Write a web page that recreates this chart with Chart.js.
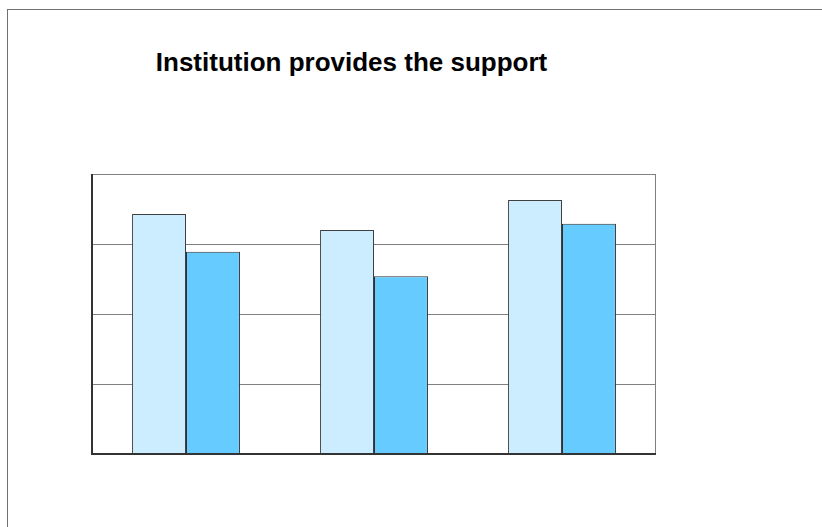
<!DOCTYPE html>
<html>
<head>
<meta charset="utf-8">
<title>Institution provides the support</title>
<script src="https://cdn.jsdelivr.net/npm/chart.js@4/dist/chart.umd.min.js"></script>
<style>
  html,body{margin:0;padding:0;background:#fff;}
  #wrap{position:relative;width:822px;height:527px;overflow:hidden;}
  #frame{position:absolute;left:7px;top:9px;right:-10px;bottom:-10px;border-left:1px solid #707070;border-top:1px solid #707070;}
  #title{position:absolute;left:0;width:703px;top:49px;text-align:center;font:bold 26px/1 "Liberation Sans",Arial,sans-serif;color:#000;white-space:nowrap;}
  canvas{position:absolute;left:0;top:0;}
</style>
</head>
<body>
<div id="wrap">
  <div id="frame"></div>
  <div id="title">Institution provides the support</div>
  <canvas id="chart" width="822" height="527"></canvas>
</div>
<script>
// categories and series (no axis labels shown)
const categories = ['Group 1', 'Group 2', 'Group 3'];
const seriesA = [3.43, 3.20, 3.63];
const seriesB = [2.89, 2.54, 3.29];
const yTicks = [0, 1, 2, 3, 4];

// grey frame on the top and right of the plot area, dark axes left and bottom
const plotFrame = {
  id: 'plotFrame',
  afterDraw(chart){
    const a = chart.chartArea, c = chart.ctx;
    c.save();
    c.strokeStyle = '#808080';
    c.lineWidth = 1;
    c.beginPath();
    c.moveTo(a.left, a.top + 0.5);
    c.lineTo(a.right - 0.5, a.top + 0.5);
    c.lineTo(a.right - 0.5, a.bottom);
    c.stroke();
    c.strokeStyle = '#333';
    c.lineWidth = 2;
    c.beginPath();
    c.moveTo(a.left, a.top);
    c.lineTo(a.left, a.bottom);
    c.lineTo(a.right, a.bottom);
    c.stroke();
    c.restore();
  }
};

new Chart(document.getElementById('chart'), {
  type: 'bar',
  data: {
    labels: categories,
    datasets: [
      {label: 'Series 1', data: seriesA, backgroundColor: '#CCECFF', borderColor: '#404040', borderWidth: 1},
      {label: 'Series 2', data: seriesB, backgroundColor: '#66CCFF', borderColor: '#303030', borderWidth: 1}
    ]
  },
  options: {
    responsive: false,
    animation: false,
    layout: {padding: {left: 92, top: 174, right: 166, bottom: 73}},
    plugins: {legend: {display: false}, title: {display: false}, tooltip: {enabled: false}},
    datasets: {bar: {categoryPercentage: 0.574, barPercentage: 1}},
    scales: {
      x: {
        grid: {display: false, drawTicks: false},
        border: {display: false},
        ticks: {display: false}
      },
      y: {
        min: yTicks[0],
        max: yTicks[yTicks.length - 1],
        afterBuildTicks(s){ s.ticks = yTicks.map(v => ({value: v})); },
        grid: {color: '#808080', drawTicks: false, tickLength: 0},
        border: {display: false},
        ticks: {display: false}
      }
    }
  },
  plugins: [plotFrame]
});
</script>
</body>
</html>
